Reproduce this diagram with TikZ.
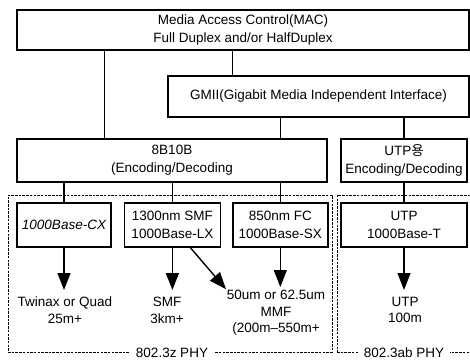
\documentclass[tikz,border=0pt]{standalone}
\usepackage{fontspec}
\setmainfont{Liberation Sans}
\newfontfamily\krfont{Noto Sans CJK KR}
\usetikzlibrary{positioning, arrows.meta, calc}
\tikzset{
    layer/.style={draw, line width=1.4pt, inner sep=0pt, align=center, font=\fontsize{13.5}{18}\selectfont},
    phy/.style={layer, minimum height=44pt},
    group/.style={draw, line width=1pt, dash pattern=on 2.5pt off 1.2pt, inner sep=0pt},
    grouplabel/.style={fill=white, inner xsep=6pt, inner ysep=1pt, font=\fontsize{13.5}{16}\selectfont},
    wire/.style={line width=1.4pt},
    feed/.style={line width=1.4pt, -{Triangle[length=17pt, width=13pt]}},
    medium/.style={inner sep=0pt, align=center, anchor=north, font=\fontsize{13.5}{16.5}\selectfont},
}

\begin{document}
\begin{tikzpicture}[x=1pt, y=-1pt]
    \useasboundingbox (0,0) rectangle (470,359);
    \clip (0,0) rectangle (470,359);

    % PHY groups
    \node[group, minimum width=324pt, minimum height=157pt] (z) at (170,273.5) {};
    \node[group, minimum width=138pt, minimum height=157pt] (ab) at (406,273.5) {};

    \node[layer, minimum width=452pt, minimum height=40pt] (mac) at (243,30) {Media Access Control(MAC)\\Full Duplex and/or HalfDuplex};
    \node[layer, minimum width=301pt, minimum height=41pt] (gmii) at (318.5,96.5) {GMII(Gigabit Media Independent Interface)};
    \node[layer, minimum width=310pt, minimum height=43pt] (enc) at (172,160.5) {8B10B\\(Encoding/Decoding};
    \node[layer, minimum width=126pt, minimum height=43pt] (utpenc) at (404,160.5) {UTP{\krfont 용}\\Encoding/Decoding};

    \node[phy, minimum width=94pt] (cx) at (64,225) {\itshape 1000Base-CX};
    \node[phy, minimum width=96pt, right=12pt of cx] (lx) {1300nm SMF\\1000Base-LX};
    \node[phy, minimum width=95pt, right=11pt of lx] (sx) {850nm FC\\1000Base-SX};
    \node[phy, minimum width=126pt] (utp) at (404,225) {UTP\\1000Base-T};

    \node[medium] (twinax) at (65,297) {Twinax or Quad\\25m+};
    \node[medium] (smf) at (167,297) {SMF\\3km+};
    \node[medium] (mmf) at (276,290) {50um or 62.5um\\MMF\\(200m--550m+};
    \node[medium] (utpm) at (405,297) {UTP\\100m};

    \node[grouplabel] at ([xshift=2pt]z.south) {802.3z PHY};
    \node[grouplabel] at (ab.south -| utp.south) {802.3ab PHY};

    \coordinate (tap1) at ([xshift=88pt]enc.north west);
    \coordinate (tap2) at ([xshift=65pt]gmii.north west);
    \draw[wire] (tap1) -- (tap1 |- mac.south);
    \draw[wire] (tap2) -- (tap2 |- mac.south);
    \draw[wire] (sx.north |- enc.north) -- (sx.north |- gmii.south);
    \draw[wire] (utpenc.north) -- (utpenc.north |- gmii.south);
    \foreach \n in {cx, lx, sx}
      \draw[wire] (\n.north) -- (\n.north |- enc.south);
    \draw[wire] (utp.north) -- (utpenc.south);

    \draw[feed, shorten >=7pt] (cx.south) -- (cx.south |- twinax.north);
    \draw[feed, shorten >=7pt] (lx.south) -- (lx.south |- smf.north);
    \draw[feed, shorten >=1pt] ([xshift=18pt]lx.south) -- (mmf.north west);
    \draw[feed, shorten >=3pt] (sx.south) -- (sx.south |- mmf.north);
    \draw[feed, shorten >=7pt] (utp.south) -- (utp.south |- utpm.north);
\end{tikzpicture}
\end{document}
